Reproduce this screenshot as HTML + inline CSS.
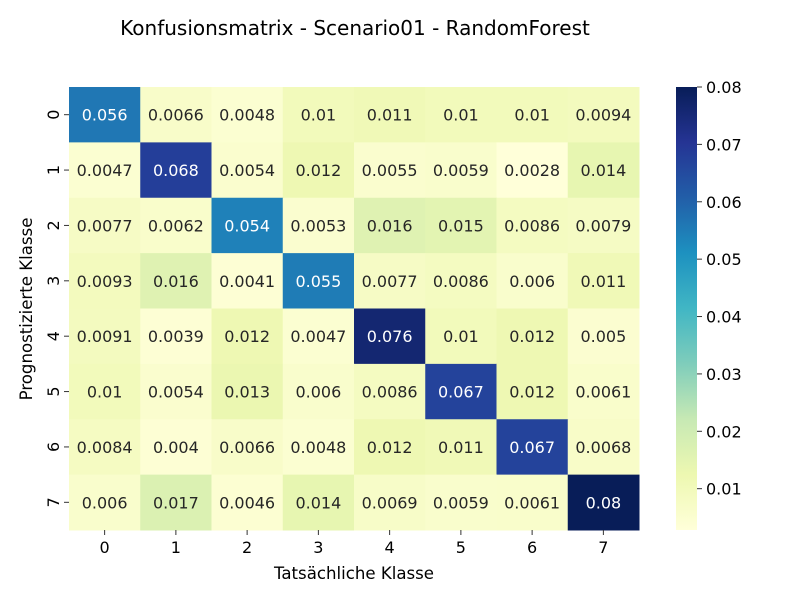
<!DOCTYPE html>
<html><head><meta charset="utf-8"><style>body{margin:0;background:#fff}svg text{font-family:"DejaVu Sans","Liberation Sans",sans-serif}</style></head>
<body>
<svg id="c" width="800" height="600" xmlns="http://www.w3.org/2000/svg">
<text x="355" y="35" font-size="20" text-anchor="middle">Konfusionsmatrix - Scenario01 - RandomForest</text>
<text x="354" y="579" font-size="16.6" text-anchor="middle">Tatsächliche Klasse</text>
<text transform="translate(32,309) rotate(-90)" font-size="16.6" text-anchor="middle">Prognostizierte Klasse</text>
<defs><linearGradient id="cb" x1="0" y1="1" x2="0" y2="0"></linearGradient></defs>
</svg>
<script>
const labels=["0","1","2","3","4","5","6","7"];
const row0=[0.056,0.0066,0.0048,0.01,0.011,0.01,0.01,0.0094];
const row1=[0.0047,0.068,0.0054,0.012,0.0055,0.0059,0.0028,0.014];
const row2=[0.0077,0.0062,0.054,0.0053,0.016,0.015,0.0086,0.0079];
const row3=[0.0093,0.016,0.0041,0.055,0.0077,0.0086,0.006,0.011];
const row4=[0.0091,0.0039,0.012,0.0047,0.076,0.01,0.012,0.005];
const row5=[0.01,0.0054,0.013,0.006,0.0086,0.067,0.012,0.0061];
const row6=[0.0084,0.004,0.0066,0.0048,0.012,0.011,0.067,0.0068];
const row7=[0.006,0.017,0.0046,0.014,0.0069,0.0059,0.0061,0.08];
const cbTicks=[0.01,0.02,0.03,0.04,0.05,0.06,0.07,0.08];
const rows=[row0,row1,row2,row3,row4,row5,row6,row7];
const NS="http://www.w3.org/2000/svg",svg=document.getElementById('c');
const stops=["#ffffd9","#edf8b1","#c7e9b4","#7fcdbb","#41b6c4","#1d91c0","#225ea8","#253494","#081d58"].map(h=>[1,3,5].map(i=>parseInt(h.substr(i,2),16)));
const all=rows.flat(),vmin=Math.min(...all),vmax=Math.max(...all);
function col(v){let t=(v-vmin)/(vmax-vmin)*8;let i=Math.min(7,Math.floor(t)),f=t-i;return stops[i].map((c,k)=>Math.round(c+(stops[i+1][k]-c)*f));}
function lum(c){const l=c.map(x=>{x/=255;return x<=0.03928?x/12.92:Math.pow((x+0.055)/1.055,2.4)});return 0.2126*l[0]+0.7152*l[1]+0.0722*l[2];}
const X0=69,X1=639,Y0=87,Y1=530,cw=(X1-X0)/8,ch=(Y1-Y0)/8;
const xs=i=>X0+i*cw,ys=j=>Y0+j*ch;
function el(t,a,p){const e=document.createElementNS(NS,t);for(const k in a)e.setAttribute(k,a[k]);(p||svg).appendChild(e);return e;}
rows.forEach((r,j)=>r.forEach((v,i)=>{const c=col(v);
const rc=el('rect',{x:xs(i),y:ys(j),width:cw+0.5,height:ch+0.5,fill:`rgb(${c})`});


const t=el('text',{x:xs(i)+cw/2,y:ys(j)+ch/2+6,'font-size':16,'text-anchor':'middle',fill:lum(c)>0.408?'#262626':'#fff'});
t.textContent=String(v);


}));
labels.forEach((l,i)=>{
el('line',{x1:xs(i)+cw/2,x2:xs(i)+cw/2,y1:Y1,y2:Y1+5,stroke:'#333'});
const t=el('text',{x:xs(i)+cw/2,y:Y1+23,'font-size':16,'text-anchor':'middle'});t.textContent=l;


const y=ys(i)+ch/2;
el('line',{x1:X0-5,x2:X0,y1:y,y2:y,stroke:'#333'});
const u=el('text',{transform:`translate(${X0-10},${y}) rotate(-90)`,'font-size':16,'text-anchor':'middle'});u.textContent=l;


});
const g=document.getElementById('cb');
for(let k=0;k<=8;k++)el('stop',{offset:k/8,'stop-color':`rgb(${stops[k]})`},g);
const cbr=el('rect',{x:676,y:Y0,width:21,height:Y1-Y0,fill:'url(#cb)'});


const cy=v=>Y1-(v-vmin)/(vmax-vmin)*(Y1-Y0);
cbTicks.forEach(v=>{const y=cy(v);el('line',{x1:697,x2:702,y1:y,y2:y,stroke:'#333'});
const t=el('text',{x:706,y:y+6,'font-size':16});t.textContent=v.toFixed(2);

});
</script>
</body></html>
